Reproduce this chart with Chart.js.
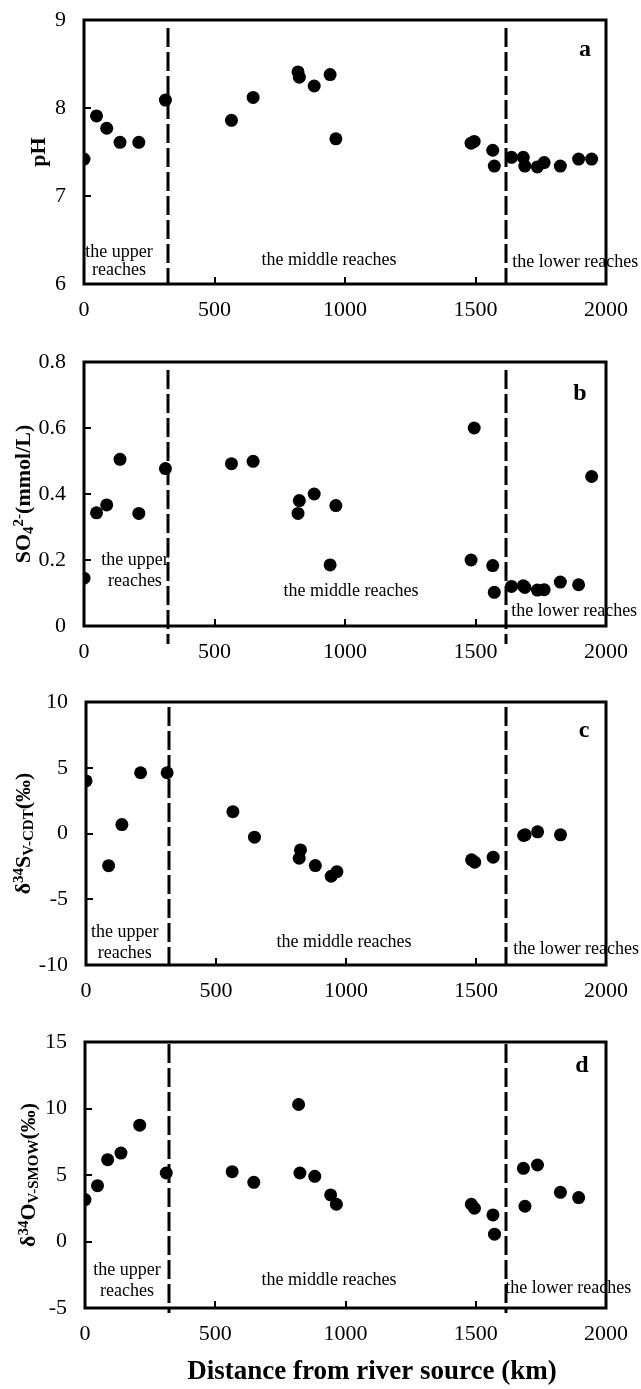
<!DOCTYPE html>
<html>
<head>
<meta charset="utf-8">
<script src="https://cdn.jsdelivr.net/npm/chart.js@4.4.0/dist/chart.umd.min.js"></script>
<style>
  html, body { margin: 0; padding: 0; background: #fff; }
  #wrap { position: relative; width: 641px; height: 1389px; overflow: hidden; background: #fff; }
  #wrap canvas { position: absolute; left: 0; }
</style>
</head>
<body>
<div id="wrap">
  <canvas id="panelA"></canvas>
  <canvas id="panelB"></canvas>
  <canvas id="panelC"></canvas>
  <canvas id="panelD"></canvas>
</div>
<script>
// Sampling sites along the river (distance from source, km)
const distanceKm = [0, 48, 87, 138, 210, 312, 565, 648, 820, 825, 882, 943, 965,
                    1483, 1495, 1566, 1572, 1638, 1683, 1689, 1737, 1763, 1825, 1895, 1945];

// Measured values per site (null = not measured)
const phValues = [7.42, 7.91, 7.77, 7.61, 7.61, 8.09, 7.86, 8.12, 8.41, 8.35, 8.25, 8.38, 7.65,
                  7.60, 7.62, 7.52, 7.34, 7.44, 7.44, 7.34, 7.33, 7.38, 7.34, 7.42, 7.42];
const sulfateMmolL = [0.145, 0.343, 0.367, 0.505, 0.341, 0.477, 0.492, 0.499, 0.341, 0.38, 0.40, 0.185, 0.365,
                      0.20, 0.60, 0.183, 0.102, 0.12, 0.122, 0.117, 0.109, 0.11, 0.133, 0.125, 0.453];
const delta34S = [4.0, null, -2.45, 0.68, 4.62, 4.62, 1.66, -0.28, -1.88, -1.25, -2.44, -3.25, -2.9,
                  -2.0, -2.18, -1.8, null, null, -0.15, -0.1, 0.13, null, -0.1, null, null];
const delta34O = [3.15, 4.2, 6.15, 6.65, 8.75, 5.15, 5.25, 4.45, 10.3, 5.15, 4.9, 3.5, 2.8,
                  2.8, 2.5, 2.0, 0.55, null, 5.5, 2.65, 5.75, null, 3.7, 3.3, null];

// Boundaries between upper / middle / lower reaches (km)
const reachBoundariesKm = [321, 1615];

// Tick labels
const xTicks = [0, 500, 1000, 1500, 2000];
const phTicks = [6, 7, 8, 9];
const sulfateTicks = [0, 0.2, 0.4, 0.6, 0.8];
const delta34STicks = [-10, -5, 0, 5, 10];
const delta34OTicks = [-5, 0, 5, 10, 15];

const SERIF = '"Liberation Serif", "Times New Roman", Times, serif';

const panels = [
  {
    id: 'panelA', canvasTop: 0, canvasHeight: 330, plotTop: 20, plotBottom: 284, plotLeft: 84,
    values: phValues, yTicks: phTicks,
    yTitle: [{ t: 'pH' }], yTitleX: 45,
    letter: 'a', letterDx: 21, letterDy: 36,
    dashStart: 8, dashEnd: 0,
    notes: [
      { t: 'the upper', x: 134, y: 6.36 }, { t: 'reaches', x: 134, y: 6.16 },
      { t: 'the middle reaches', x: 939, y: 6.27 },
      { t: 'the lower reaches', x: 1882, y: 6.25 }
    ]
  },
  {
    id: 'panelB', canvasTop: 330, canvasHeight: 340, plotTop: 362, plotBottom: 626, plotLeft: 84,
    values: sulfateMmolL, yTicks: sulfateTicks,
    yTitle: [{ t: 'SO' }, { t: '4', sub: true }, { t: '2-', sup: true }, { t: '(mmol/L)' }], yTitleX: 30,
    letter: 'b', letterDx: 26, letterDy: 38,
    dashStart: 8, dashEnd: 18,
    notes: [
      { t: 'the upper', x: 195, y: 0.2 }, { t: 'reaches', x: 195, y: 0.136 },
      { t: 'the middle reaches', x: 1023, y: 0.106 },
      { t: 'the lower reaches', x: 1878, y: 0.045 }
    ]
  },
  {
    id: 'panelC', canvasTop: 670, canvasHeight: 340, plotTop: 702, plotBottom: 965, plotLeft: 86,
    values: delta34S, yTicks: delta34STicks,
    yTitle: [{ t: 'δ' }, { t: '34', sup: true }, { t: 'S' }, { t: 'V-CDT', sub: true }, { t: '(‰)' }], yTitleX: 30,
    letter: 'c', letterDx: 22, letterDy: 35,
    dashStart: 5, dashEnd: 0,
    notes: [
      { t: 'the upper', x: 149, y: -7.49 }, { t: 'reaches', x: 149, y: -9.09 },
      { t: 'the middle reaches', x: 992, y: -8.25 },
      { t: 'the lower reaches', x: 1885, y: -8.78 }
    ]
  },
  {
    id: 'panelD', canvasTop: 1010, canvasHeight: 379, plotTop: 1042, plotBottom: 1308, plotLeft: 85,
    values: delta34O, yTicks: delta34OTicks,
    yTitle: [{ t: 'δ' }, { t: '34', sup: true }, { t: 'O' }, { t: 'V-SMOW', sub: true }, { t: '(‰)' }], yTitleX: 35,
    letter: 'd', letterDx: 24, letterDy: 30,
    dashStart: 2, dashEnd: 5,
    xTitle: 'Distance from river source (km)', xTitleX: 372, xTitleBelow: 64,
    notes: [
      { t: 'the upper', x: 161, y: -2.14 }, { t: 'reaches', x: 161, y: -3.72 },
      { t: 'the middle reaches', x: 937, y: -2.9 },
      { t: 'the lower reaches', x: 1855, y: -3.5 }
    ]
  }
];

// Frame, inner tick marks, reach boundaries, notes, panel letter and axis titles
const panelDecor = {
  id: 'panelDecor',
  beforeDatasetsDraw(chart, args, o) {
    const { ctx, chartArea: { left, right, top, bottom }, scales: { x, y } } = chart;
    ctx.save();
    ctx.strokeStyle = '#000';

    // reach boundaries
    ctx.lineWidth = 3;
    ctx.setLineDash([19, 5]);
    reachBoundariesKm.forEach(km => {
      const px = Math.round(x.getPixelForValue(km));
      ctx.beginPath();
      ctx.moveTo(px, top + o.dashStart);
      ctx.lineTo(px, bottom + o.dashEnd);
      ctx.stroke();
    });
    ctx.setLineDash([]);

    // inner tick marks
    ctx.lineWidth = 2;
    x.ticks.forEach(t => {
      if (t.value <= x.min || t.value >= x.max) return;
      const px = Math.round(x.getPixelForValue(t.value));
      ctx.beginPath(); ctx.moveTo(px, bottom); ctx.lineTo(px, bottom - 7); ctx.stroke();
    });
    y.ticks.forEach(t => {
      if (t.value <= y.min || t.value >= y.max) return;
      const py = Math.round(y.getPixelForValue(t.value));
      ctx.beginPath(); ctx.moveTo(left, py); ctx.lineTo(left + 7, py); ctx.stroke();
    });

    // plot frame
    ctx.lineWidth = 3;
    ctx.strokeRect(left, top, right - left, bottom - top);
    ctx.restore();
  },
  afterDraw(chart, args, o) {
    const { ctx, chartArea: { right, top, bottom }, scales: { x, y } } = chart;
    ctx.save();
    ctx.fillStyle = '#000';

    // reach notes
    ctx.font = '18px ' + SERIF;
    ctx.textAlign = 'center';
    ctx.textBaseline = 'middle';
    o.notes.forEach(n => ctx.fillText(n.t, x.getPixelForValue(n.x), y.getPixelForValue(n.y)));

    // panel letter
    ctx.font = 'bold 24px ' + SERIF;
    ctx.textBaseline = 'alphabetic';
    ctx.fillText(o.letter, right - o.letterDx, top + o.letterDy);

    // shared x-axis title under the last panel
    if (o.xTitle) {
      ctx.font = 'bold 27px ' + SERIF;
      ctx.textBaseline = 'middle';
      ctx.fillText(o.xTitle, o.xTitleX, bottom + o.xTitleBelow);
      ctx.textBaseline = 'alphabetic';
    }

    // rotated y-axis title with sub/superscripts
    const main = 'bold 22px ' + SERIF;
    const small = 'bold 15px ' + SERIF;
    const segs = o.yTitle.map(s => {
      ctx.font = (s.sub || s.sup) ? small : main;
      return { ...s, font: ctx.font, w: ctx.measureText(s.t).width };
    });
    const total = segs.reduce((a, s) => a + s.w, 0);
    const cy = (top + bottom) / 2;
    ctx.translate(o.yTitleX, cy);
    ctx.rotate(-Math.PI / 2);
    ctx.textAlign = 'left';
    let cx = -total / 2;
    segs.forEach(s => {
      ctx.font = s.font;
      const dy = s.sup ? -7 : (s.sub ? 3 : 0);
      ctx.fillText(s.t, cx, dy);
      cx += s.w;
    });
    ctx.restore();
  }
};

function buildPanel(p) {
  const canvas = document.getElementById(p.id);
  canvas.width = 641;
  canvas.height = p.canvasHeight;
  canvas.style.width = '641px';
  canvas.style.height = p.canvasHeight + 'px';
  canvas.style.top = p.canvasTop + 'px';

  const points = distanceKm
    .map((d, i) => ({ x: d, y: p.values[i] }))
    .filter(pt => pt.y !== null);

  const xAxisHeight = (p.canvasTop + p.canvasHeight) - p.plotBottom;
  const tickFont = { family: SERIF, size: 22 };

  return new Chart(canvas, {
    type: 'scatter',
    data: {
      datasets: [{
        data: points,
        backgroundColor: '#000',
        borderColor: '#000',
        borderWidth: 0,
        pointRadius: 6.5,
        pointHoverRadius: 6.5
      }]
    },
    options: {
      responsive: false,
      animation: false,
      devicePixelRatio: 1,
      events: [],
      layout: { padding: { top: p.plotTop - p.canvasTop, right: 641 - 608, left: 0, bottom: 0 } },
      plugins: {
        legend: { display: false },
        tooltip: { enabled: false },
        panelDecor: p
      },
      scales: {
        x: {
          type: 'linear',
          min: xTicks[0],
          max: xTicks[xTicks.length - 1],
          afterBuildTicks: s => { s.ticks = xTicks.map(v => ({ value: v })); },
          afterFit: s => { s.height = xAxisHeight; },
          grid: { display: false, drawTicks: false },
          border: { display: false },
          ticks: { font: tickFont, color: '#000', padding: 13, maxRotation: 0, autoSkip: false, callback: v => String(v) }
        },
        y: {
          type: 'linear',
          min: p.yTicks[0],
          max: p.yTicks[p.yTicks.length - 1],
          afterBuildTicks: s => { s.ticks = p.yTicks.map(v => ({ value: v })); },
          afterFit: s => { s.width = p.plotLeft; s.paddingTop = 0; s.paddingBottom = 0; },
          grid: { display: false, drawTicks: false },
          border: { display: false },
          ticks: { font: tickFont, color: '#000', padding: 18, autoSkip: false, callback: v => String(v) }
        }
      }
    },
    plugins: [panelDecor]
  });
}

panels.forEach(buildPanel);
</script>
</body>
</html>
